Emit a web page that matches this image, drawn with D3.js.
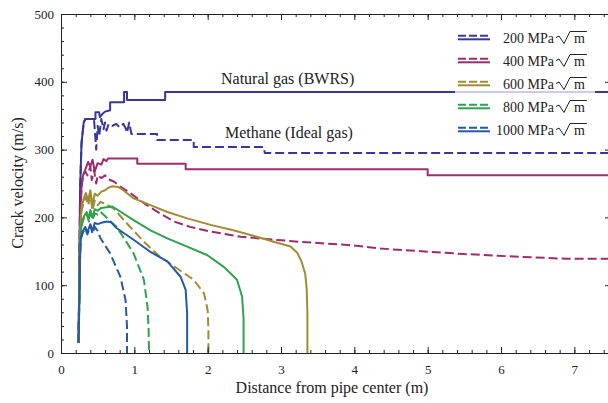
<!DOCTYPE html>
<html>
<head>
<meta charset="utf-8">
<script src="https://cdn.jsdelivr.net/npm/d3@7"></script>
<style>
  body { margin: 0; background: #fff; }
  svg { display: block; font-family: "Liberation Serif", "DejaVu Serif", serif; }
</style>
</head>
<body>
<svg id="chart" width="608" height="403"></svg>
<script>
// toughness levels, colours
const toughness = [200, 400, 600, 800, 1000];
const colors = ["#37379a", "#9c2c6e", "#a08c34", "#2ea24c", "#275aa2"];

// Natural gas (BWRS), solid lines: [distance m, velocity m/s]
const ng200 = [[0.24,15],[0.25,120],[0.26,240],[0.28,310],[0.31,340],[0.33,345],[0.47,345],[0.47,355],[0.52,355],[0.53,348],[0.56,352],[0.6,356],[0.67,358],[0.67,370],[0.86,370],[0.86,385],[0.9,385],[0.9,373],[1.42,373],[1.42,385],[7.5,385]];
const ng400 = [[0.24,15],[0.25,110],[0.26,200],[0.28,245],[0.3,262],[0.33,270],[0.37,282],[0.4,275],[0.43,285],[0.46,268],[0.5,280],[0.55,278],[0.58,286],[0.62,283],[0.64,287],[1.04,287],[1.04,279],[1.7,279],[1.7,271],[5.0,271],[5.0,262],[7.5,262]];
const ng600 = [[0.24,15],[0.25,100],[0.26,180],[0.28,215],[0.31,228],[0.34,236],[0.37,225],[0.4,240],[0.43,218],[0.46,235],[0.5,232],[0.55,238],[0.6,240],[0.65,244],[0.7,246],[0.78,245],[0.85,240],[0.99,228],[1.22,218],[1.45,208],[1.72,198.6],[2.04,189],[2.35,181],[2.67,171.5],[2.9,164],[3.13,157],[3.22,148],[3.28,135],[3.33,117],[3.35,95],[3.36,60],[3.36,0]];
const ng800 = [[0.24,15],[0.25,90],[0.26,160],[0.28,190],[0.31,201],[0.35,208],[0.38,198],[0.4,211],[0.43,200],[0.46,212],[0.5,210],[0.55,214],[0.62,215],[0.7,216],[0.76,212],[0.99,196],[1.22,181],[1.45,169],[1.72,157],[1.99,144.5],[2.22,127],[2.4,108],[2.47,83],[2.49,49],[2.49,0]];
const ng1000 = [[0.24,15],[0.25,80],[0.26,140],[0.27,170],[0.3,180],[0.33,186],[0.36,178],[0.4,190],[0.43,180],[0.46,192],[0.5,190],[0.55,192],[0.62,194],[0.68,193],[0.76,184],[0.99,167],[1.22,149],[1.45,135],[1.63,112.5],[1.7,93],[1.72,58.5],[1.72,0]];

// Methane (ideal gas), dashed lines
const me200 = [[0.24,15],[0.25,120],[0.26,240],[0.28,310],[0.31,340],[0.33,345],[0.45,345],[0.46,330],[0.48,300],[0.5,335],[0.52,320],[0.55,345],[0.58,330],[0.6,340],[0.62,328],[0.65,338],[0.7,335],[0.75,338],[0.8,333],[0.85,338],[0.88,332],[0.9,325],[0.93,340],[0.96,323],[1.31,323],[1.31,314],[1.81,314],[1.81,304],[2.76,304],[2.78,295],[7.5,295]];
const me400 = [[0.24,15],[0.25,110],[0.26,200],[0.28,245],[0.3,262],[0.33,268],[0.36,262],[0.4,275],[0.42,255],[0.45,270],[0.48,250],[0.5,262],[0.55,258],[0.6,262],[0.65,256],[0.72,253],[0.8,246],[0.95,235.5],[1.17,218],[1.35,206],[1.54,194],[1.76,186],[2.04,179],[2.45,171.5],[2.95,166.7],[3.26,164],[3.95,159],[4.36,154],[5.49,146],[6.3,141.6],[6.9,139],[7.5,139]];
const me600 = [[0.24,15],[0.25,100],[0.26,180],[0.28,210],[0.31,222],[0.34,230],[0.37,218],[0.4,232],[0.43,210],[0.46,225],[0.5,218],[0.54,223],[0.6,220],[0.72,213],[0.9,191],[1.13,164],[1.35,142],[1.58,125],[1.81,108],[1.95,88],[2.0,63],[2.01,34],[2.01,0]];
const me800 = [[0.24,15],[0.25,90],[0.26,160],[0.28,188],[0.31,198],[0.35,205],[0.38,194],[0.4,207],[0.43,196],[0.46,206],[0.5,204],[0.54,208],[0.6,202],[0.76,186],[0.99,147],[1.13,108],[1.18,68],[1.195,34],[1.2,0]];
const me1000 = [[0.24,15],[0.25,80],[0.26,140],[0.27,168],[0.3,178],[0.33,184],[0.36,175],[0.4,188],[0.43,176],[0.46,186],[0.5,180],[0.54,169],[0.67,147],[0.81,112.5],[0.88,78],[0.9,39],[0.9,0]];

const xTicks = [0, 1, 2, 3, 4, 5, 6, 7];
const yTicks = [0, 100, 200, 300, 400, 500];

const solidSeries = [ng200, ng400, ng600, ng800, ng1000];
const dashedSeries = [me200, me400, me600, me800, me1000];

const svg = d3.select("#chart"),
      margin = {top: 14, left: 61, bottom: 353, right: 611};

const x = d3.scaleLinear().domain([0, 7.5]).range([margin.left, margin.right]);
const y = d3.scaleLinear().domain([0, 500]).range([margin.bottom, margin.top]);

const line = d3.line().x(d => x(d[0])).y(d => y(d[1]));

// curves
const curves = svg.append("g").attr("fill", "none").attr("stroke-width", 2).attr("stroke-linejoin", "round");
dashedSeries.forEach((s, i) => {
    curves.append("path").attr("d", line(s)).attr("stroke", colors[i]).attr("stroke-dasharray", "9,4");
});
solidSeries.forEach((s, i) => {
    curves.append("path").attr("d", line(s)).attr("stroke", colors[i]);
});

// frame + ticks (pointing inward)
const minorX = d3.range(0, 7.6, 0.2), minorY = d3.range(0, 501, 20);
const axisStyle = g => { g.select(".domain").attr("stroke", "#222"); g.selectAll(".tick line").attr("stroke", "#222"); };
const labelStyle = g => g.selectAll("text").attr("fill", "#222").style("font-size", "13px").style("font-family", "Liberation Serif");

svg.append("g").attr("transform", `translate(0,${margin.bottom})`)
    .call(d3.axisBottom(x).tickValues(minorX).tickSize(-3).tickFormat("")).call(axisStyle);
svg.append("g").attr("transform", `translate(0,${margin.bottom})`)
    .call(d3.axisBottom(x).tickValues(xTicks).tickSize(-6).tickPadding(12).tickFormat(d3.format("d")))
    .call(axisStyle).call(labelStyle);
svg.append("g").attr("transform", `translate(0,${margin.top})`)
    .call(d3.axisTop(x).tickValues(minorX).tickSize(-3).tickFormat("")).call(axisStyle);
svg.append("g").attr("transform", `translate(0,${margin.top})`)
    .call(d3.axisTop(x).tickValues(xTicks).tickSize(-6).tickFormat("")).call(axisStyle);

svg.append("g").attr("transform", `translate(${margin.left},0)`)
    .call(d3.axisLeft(y).tickValues(minorY).tickSize(-3).tickFormat("")).call(axisStyle);
svg.append("g").attr("transform", `translate(${margin.left},0)`)
    .call(d3.axisLeft(y).tickValues(yTicks).tickSize(-6).tickPadding(7).tickFormat(d3.format("d")))
    .call(axisStyle).call(labelStyle);
svg.append("g").attr("transform", `translate(${margin.right},0)`)
    .call(d3.axisRight(y).tickValues(minorY).tickSize(-3).tickFormat("")).call(axisStyle);
svg.append("g").attr("transform", `translate(${margin.right},0)`)
    .call(d3.axisRight(y).tickValues(yTicks).tickSize(-6).tickFormat("")).call(axisStyle);

// axis titles
svg.append("text")
    .attr("x", 332).attr("y", 393)
    .attr("text-anchor", "middle")
    .style("font-size", "16px").attr("fill", "#222")
    .text("Distance from pipe center (m)");
svg.append("text")
    .attr("transform", "translate(23,183) rotate(-90)")
    .attr("text-anchor", "middle")
    .style("font-size", "16px").attr("fill", "#222")
    .text("Crack velocity (m/s)");

// annotations
svg.append("text").attr("x", 221).attr("y", 84).style("font-size", "16px").attr("fill", "#222").text("Natural gas (BWRS)");
svg.append("text").attr("x", 225).attr("y", 138).style("font-size", "16px").attr("fill", "#222").text("Methane (Ideal gas)");

// legend
const legend = svg.append("g");
legend.append("rect")
    .attr("x", 455).attr("y", 24).attr("width", 140).attr("height", 118)
    .attr("fill", "#fff").attr("fill-opacity", 0.75);

toughness.forEach((k, i) => {
    const cy = 37.5 + i * 23, base = cy + 5;
    const row = legend.append("g");
    row.append("line").attr("x1", 458).attr("x2", 490).attr("y1", cy - 1.8).attr("y2", cy - 1.8)
        .attr("stroke", colors[i]).attr("stroke-width", 2).attr("stroke-dasharray", "8,3");
    row.append("line").attr("x1", 458).attr("x2", 490).attr("y1", cy + 1.8).attr("y2", cy + 1.8)
        .attr("stroke", colors[i]).attr("stroke-width", 2);
    row.append("text")
        .attr("x", 554).attr("y", base)
        .attr("text-anchor", "end")
        .style("font-size", "14px").attr("fill", "#222")
        .text(k + " MPa");
    const m = row.append("text")
        .attr("x", 574).attr("y", base)
        .style("font-size", "14px").attr("fill", "#222")
        .text("m");
    const mEnd = 574 + m.node().getComputedTextLength();
    // radical sign with overline
    row.append("path")
        .attr("d", `M556,${base - 5} L559,${base - 6.5} L564,${base + 1} L570,${base - 11} L${mEnd + 2},${base - 11}`)
        .attr("fill", "none").attr("stroke", "#222").attr("stroke-width", 1);
});
</script>
</body>
</html>
